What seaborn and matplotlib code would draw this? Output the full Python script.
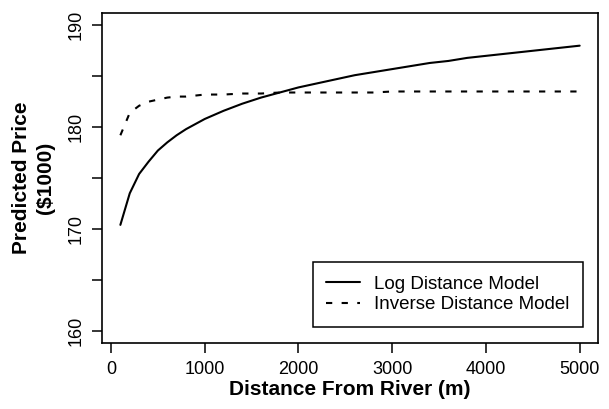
import matplotlib
matplotlib.use("Agg")
import matplotlib.pyplot as plt
import seaborn as sns
import pandas as pd

# distance from river (m)
distancia = [100, 200, 300, 400, 500, 600, 700, 800, 900, 1000,
             1200, 1400, 1600, 1800, 2000, 2200, 2400, 2600, 2800, 3000,
             3200, 3400, 3600, 3800, 4000, 4200, 4400, 4600, 4800, 5000]

# predicted price ($1000)
preco_log = [170.4, 173.5, 175.4, 176.6, 177.7, 178.5, 179.2, 179.8, 180.3, 180.8,
             181.6, 182.3, 182.9, 183.4, 183.9, 184.3, 184.7, 185.1, 185.4, 185.7,
             186.0, 186.3, 186.5, 186.8, 187.0, 187.2, 187.4, 187.6, 187.8, 188.0]
preco_inv = [179.2, 181.4, 182.1, 182.5, 182.7, 182.9, 183.0, 183.0, 183.1, 183.2,
             183.2, 183.3, 183.3, 183.4, 183.4, 183.4, 183.4, 183.4, 183.4, 183.5,
             183.5, 183.5, 183.5, 183.5, 183.5, 183.5, 183.5, 183.5, 183.5, 183.5]

modelos = ["Log Distance Model", "Inverse Distance Model"]

dados = pd.DataFrame({
    "Distancia": distancia * 2,
    "Preco": preco_log + preco_inv,
    "Modelo": [modelos[0]] * len(distancia) + [modelos[1]] * len(distancia),
})

sns.set_style("white")
plt.rcParams["font.family"] = ["Liberation Sans", "DejaVu Sans"]
plt.rcParams["text.color"] = "black"
plt.rcParams["axes.labelcolor"] = "black"

fig = plt.figure(figsize=(6.09, 4.09), dpi=100)
ax = fig.add_axes([0.1675, 0.1614, 0.8145, 0.8066])

sns.lineplot(data=dados, x="Distancia", y="Preco", style="Modelo",
             dashes={modelos[0]: "", modelos[1]: (3, 4.5)},
             color="black", linewidth=1.5, ax=ax)

ax.set_xlim(-96, 5196)
ax.set_ylim(158.8, 191.2)
ax.set_xticks([0, 1000, 2000, 3000, 4000, 5000])
ax.set_yticks([160, 165, 170, 175, 180, 185, 190])
ax.set_yticklabels(["160", "", "170", "", "180", "", "190"], rotation=90, va="center")
ax.tick_params(axis="both", direction="out", length=7.2, width=1.1, labelsize=13,
               pad=5.5, color="black", labelcolor="black", bottom=True, left=True)

for lado in ax.spines.values():
    lado.set_color("black")
    lado.set_linewidth(1.2)

ax.set_xlabel("Distance From River (m)", fontsize=15, fontweight="bold", labelpad=2,
              color="black")
ax.set_ylabel("Predicted Price\n($1000)", fontsize=15, fontweight="bold", labelpad=9,
              linespacing=1.3, color="black")

leg = ax.legend(loc="lower right", bbox_to_anchor=(0.970, 0.0485), borderaxespad=0,
                fontsize=13.5, frameon=True, fancybox=False, shadow=False,
                handlelength=1.8, handletextpad=0.75, borderpad=0.72, labelspacing=0.2)
leg.get_frame().set_edgecolor("black")
leg.get_frame().set_linewidth(1.1)
leg.get_frame().set_alpha(1)
for txt in leg.get_texts():
    txt.set_color("black")

fig.savefig("out.png", dpi=100)
